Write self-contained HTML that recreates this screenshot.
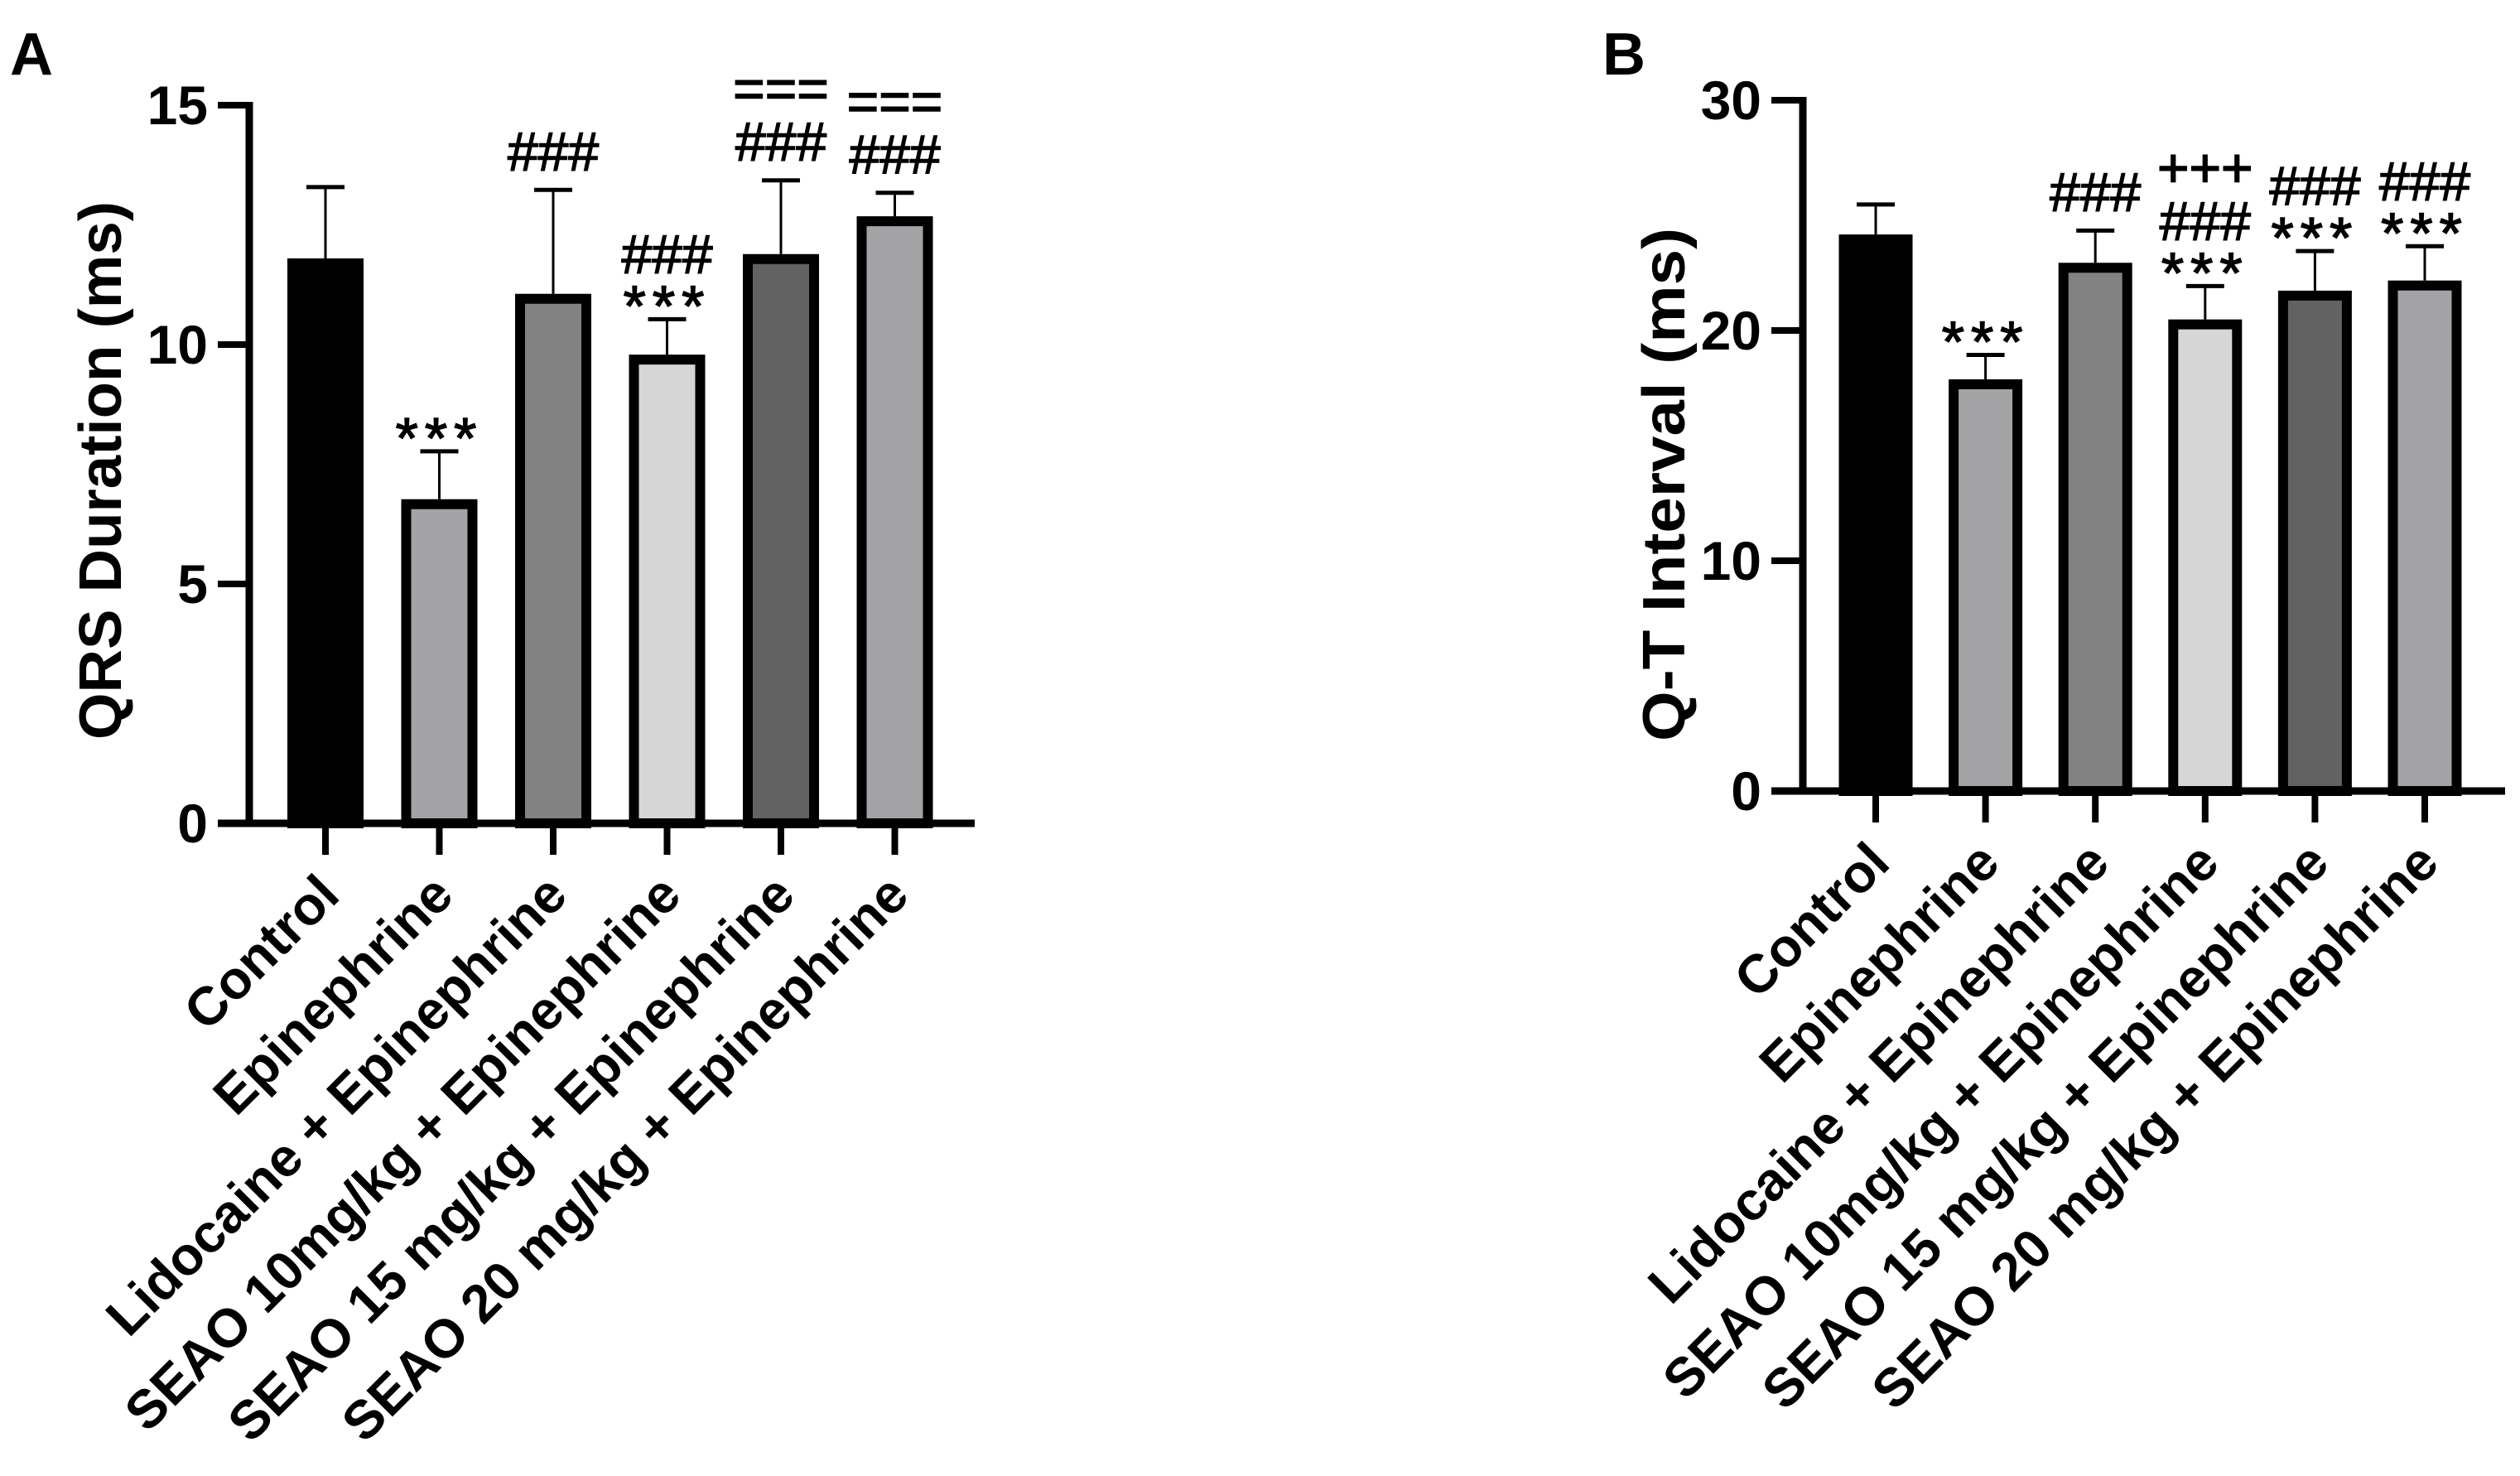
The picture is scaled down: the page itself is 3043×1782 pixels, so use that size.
<!DOCTYPE html>
<html><head><meta charset="utf-8"><style>
html,body{margin:0;padding:0;background:#fff;}
svg{display:block;}
text{font-family:"Liberation Sans",Arial,sans-serif;}
</style></head><body>
<svg id="fig" width="3043" height="1782" viewBox="0 0 3043 1782" xmlns="http://www.w3.org/2000/svg">
<g id="gA"></g>
<g id="gB"></g>
</svg>
<script>
const categories = ["Control","Epinephrine","Lidocaine + Epinephrine","SEAO 10mg/kg + Epinephrine","SEAO 15 mg/kg + Epinephrine","SEAO 20 mg/kg + Epinephrine"];
const fills = ["#000000","#a3a3a6","#828282","#d6d6d6","#626262","#a3a3a6"];
const qrsMean = [11.8, 6.77, 11.06, 9.79, 11.89, 12.68];
const qrsErr = [13.29, 7.77, 13.23, 10.53, 13.43, 13.17];
const qrsTicks = [0, 5, 10, 15];
const qrsSig = [[], ["***"], ["###"], ["***","###"], ["###","==="], ["###","==="]];
const qtMean = [24.17, 17.88, 22.94, 20.48, 21.73, 22.17];
const qtErr = [25.47, 18.94, 24.34, 21.93, 23.45, 23.66];
const qtTicks = [0, 10, 20, 30];
const qtSig = [[], ["***"], ["###"], ["***","###","+++"], ["***","###"], ["***","###"]];

const NS = "http://www.w3.org/2000/svg";
function mk(parent, tag, attrs, txt){
  const e = document.createElementNS(NS, tag);
  for (const k in attrs) e.setAttribute(k, attrs[k]);
  if (txt !== undefined) e.textContent = txt;
  parent.appendChild(e);
  return e;
}

function drawChart(g, cfg){
  const yScale = v => cfg.y0 - (v - 0) / cfg.yMax * (cfg.y0 - cfg.yTop);
  const xScale = i => cfg.x0c + i * cfg.step;
  const half = cfg.barW / 2;

  const pl = mk(g, "text", {x: cfg.letterX, y: 90, "font-size": 72, "font-weight": "bold"}, cfg.letter);
  
  

  const yt = mk(g, "text", {x: 0, y: 0, "font-size": 72, "font-weight": "bold", "text-anchor": "middle", "dominant-baseline": "central",
    transform: `translate(${cfg.titleX},${cfg.titleY}) rotate(-90)`, textLength: cfg.titleLen, lengthAdjust: "spacingAndGlyphs"}, cfg.title);
  
  

  cfg.mean.forEach((v, i) => {
    const cx = xScale(i), yv = yScale(v), ye = yScale(cfg.err[i]);
    const eb = mk(g, "line", {x1: cx, x2: cx, y1: yv, y2: ye, stroke: "#000", "stroke-width": 3});
    
    
    const ec = mk(g, "line", {x1: cx - 23, x2: cx + 23, y1: ye, y2: ye, stroke: "#000", "stroke-width": 5});
    
    
    const r = mk(g, "rect", {x: cx - half + 6, y: yv + 6, width: cfg.barW - 12, height: Math.max(0, cfg.y0 - yv - 6),
      fill: fills[i], stroke: "#000", "stroke-width": 12});
    
    
    let base = null;
    cfg.sig[i].forEach((s, k) => {
      if (k === 0) base = (s[0] === "*") ? ye + 8 : ye - 24;
      else base -= 64;
      const t = mk(g, "text", {x: cx, y: base, "font-size": s[0] === "*" ? 70 : 66, "text-anchor": "middle",
        stroke: "#000", "stroke-width": 1.5,
        "letter-spacing": s[0] === "*" ? 8 : 0}, s);
      
      
    });
    const xt = mk(g, "line", {x1: cx, x2: cx, y1: cfg.y0, y2: cfg.y0 + 38, stroke: "#000", "stroke-width": 8});
    
    
    const lx = cx + 4, ly = cfg.y0 + 74;
    const lb = mk(g, "text", {x: 0, y: 0, "font-size": 65, "font-weight": "bold", "text-anchor": "end", "dominant-baseline": "central",
      transform: `translate(${lx},${ly}) rotate(-45)`}, categories[i]);
    
    
  });

  const ya = mk(g, "line", {x1: cfg.axisX, x2: cfg.axisX, y1: cfg.yTop - 4, y2: cfg.y0 + 4, stroke: "#000", "stroke-width": 9});
  
  
  const xa = mk(g, "line", {x1: cfg.axisX - 38, x2: cfg.xEnd, y1: cfg.y0, y2: cfg.y0, stroke: "#000", "stroke-width": 9});
  
  
  cfg.ticks.forEach(t => {
    const y = yScale(t);
    const tl = mk(g, "line", {x1: cfg.axisX - 38, x2: cfg.axisX, y1: y, y2: y, stroke: "#000", "stroke-width": 8});
    
    
    const tt = mk(g, "text", {x: cfg.axisX - 50, y: y, "font-size": 66, "font-weight": "bold", "text-anchor": "end", "dominant-baseline": "central"}, String(t));
    
    
  });
}

drawChart(document.getElementById("gA"), {
  letter: "A", letterX: 12, title: "QRS Duration (ms)", titleX: 122, titleY: 568, titleLen: 650,
  mean: qrsMean, err: qrsErr, sig: qrsSig, ticks: qrsTicks, yMax: 15,
  y0: 994, yTop: 127, axisX: 301, x0c: 393, step: 137.5, barW: 92, xEnd: 1177
});
drawChart(document.getElementById("gB"), {
  letter: "B", letterX: 1935, title: "Q-T Interval (ms)", titleX: 2010, titleY: 585, titleLen: 620,
  mean: qtMean, err: qtErr, sig: qtSig, ticks: qtTicks, yMax: 30,
  y0: 955, yTop: 121, axisX: 2177, x0c: 2265, step: 132.6, barW: 89, xEnd: 3025
});
</script>
</body></html>
